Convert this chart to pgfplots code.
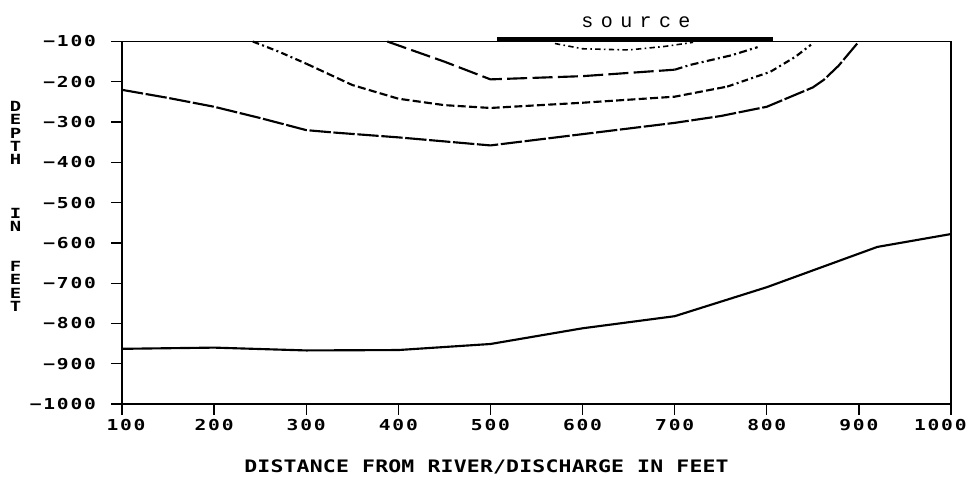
\documentclass[border=0pt]{standalone}
\usepackage{fontspec}
\usepackage{pgfplots}
\pgfplotsset{compat=1.18}
\setmainfont{DejaVu Sans Mono}
\newfontfamily\tickfont[FakeStretch=1.3, LetterSpace=12]{DejaVu Sans Mono}
\newfontfamily\labfont[FakeStretch=1.25, LetterSpace=1]{DejaVu Sans Mono}
\newfontfamily\vlabfont[FakeStretch=1.35]{DejaVu Sans Mono}
\newfontfamily\srcfont[LetterSpace=37]{Liberation Mono}
\begin{document}
\begin{tikzpicture}
\useasboundingbox (-91.5pt,-54pt) rectangle (638.25pt,303pt);
\begin{axis}[
  at={(0,0)}, anchor=south west,
  scale only axis, width=621.75pt, height=271.875pt,
  xmin=100, xmax=1000, ymin=-1000, ymax=-100,
  axis line style={line width=1.2pt},
  xtick={100,200,...,1000},
  xticklabels={{\hspace*{6pt}100},200,300,400,500,600,700,800,900,{\hspace*{-16pt}1000}},
  ytick={-1000,-900,...,-100},
  yticklabels={−1000,−900,−800,−700,−600,−500,−400,−300,−200,−100},
  tick align=outside, xtick pos=left, ytick pos=left,
  major tick length=8pt,
  tick style={line width=1pt, black},
  ticklabel style={font=\tickfont\bfseries\fontsize{11.3}{13}\selectfont},
  yticklabel style={xshift=-8pt},
  xlabel={DISTANCE FROM RIVER/DISCHARGE IN FEET},
  xlabel style={font=\labfont\bfseries\fontsize{12.9}{14}\selectfont,
    at={(axis description cs:0.4397,-0.1738)}, anchor=center},
  ylabel={D\\E\\P\\T\\H\\~\\~\\~\\I\\N\\~\\~\\F\\E\\E\\T},
  ylabel style={rotate=-90, align=center,
    font=\vlabfont\bfseries\fontsize{10.5}{10}\selectfont,
    at={(axis description cs:-0.1285,0.545)}, anchor=center},
  clip=false,
  every axis plot/.append style={black, line width=1.6pt},
]
% deepest solid curve
\addplot[solid] coordinates {(100,-863) (200,-860) (300,-867) (400,-866) (500,-851) (600,-812) (700,-782) (800,-710) (920,-610) (1000,-578)};
% second curve
\addplot[dash pattern=on 16pt off 2pt] coordinates {(100,-220) (150,-240) (200,-262) (250,-290) (300,-320) (330,-326) (400,-338) (500,-358) (600,-330) (700,-302) (750,-285) (800,-262) (850,-214) (862,-195) (878,-160) (900,-100)};
% third curve
\addplot[dash pattern=on 5pt off 2.5pt on 1.5pt off 2.5pt] coordinates {(242,-100) (270,-125) (300,-155)};
\addplot[dash pattern=on 6pt off 2.5pt] coordinates {(300,-155) (350,-208) (400,-242) (450,-258) (500,-265) (600,-252) (700,-237) (757,-212)};
\addplot[dash pattern=on 5pt off 2.5pt on 1.5pt off 2.5pt] coordinates {(757,-212) (804,-175) (831,-138) (848,-108)};
% fourth curve
\addplot[dash pattern=on 15pt off 4pt] coordinates {(388,-100) (450,-150) (500,-194) (600,-186) (700,-170)};
\addplot[dash pattern=on 6pt off 2.5pt on 1.5pt off 2.5pt] coordinates {(700,-170) (717,-158) (762,-134) (790,-114)};
% fifth curve
\addplot[line width=1.2pt, dash pattern=on 4pt off 2.5pt on 1.2pt off 2.5pt] coordinates {(570,-105) (600,-118) (650,-121) (690,-112) (720,-102)};
% source bar
\addplot[line width=2.4pt] coordinates {(507,-94) (807,-94)};
\node[font=\srcfont\fontsize{15}{18}\selectfont] at (axis description cs:0.62,1.0538) {source};
\end{axis}
\end{tikzpicture}
\end{document}
